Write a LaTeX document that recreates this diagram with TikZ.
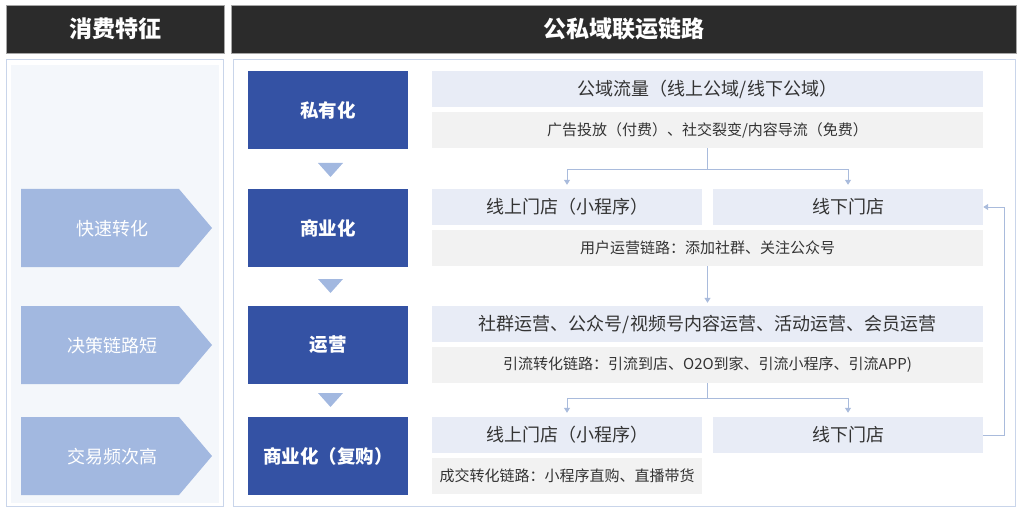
\documentclass[tikz,border=0pt]{standalone}
\usepackage{fontspec}
\setmainfont{Noto Sans CJK SC}
\usetikzlibrary{arrows.meta,calc}
\definecolor{hdr}{HTML}{2B2B2B}
\definecolor{deepblue}{HTML}{3452A4}
\definecolor{chev}{HTML}{A2B8E0}
\definecolor{lightbox}{HTML}{E8ECF6}
\definecolor{graybox}{HTML}{F2F2F2}
\definecolor{connc}{HTML}{A9BBDC}
\definecolor{panelb}{HTML}{C9D5EA}
\definecolor{panelf}{HTML}{F4F7FB}
\definecolor{txt}{HTML}{333333}
\tikzset{
  hdrbox/.style={fill=hdr, draw=gray!70, line width=0.6pt, inner sep=0pt, text=white, font=\fontsize{23}{26}\selectfont\bfseries},
  stagebox/.style={fill=deepblue, inner sep=0pt, minimum width=160pt, minimum height=78pt, text=white, font=\fontsize{18.5}{22}\selectfont\bfseries},
  chevtext/.style={inner sep=0pt, text=white, font=\fontsize{18}{22}\selectfont},
  bluebox/.style={fill=lightbox, inner sep=0pt, minimum height=36pt, text=txt, font=\fontsize{18}{21}\selectfont},
  greybox/.style={fill=graybox, inner sep=0pt, minimum height=36pt, text=txt, font=\fontsize{15}{18}\selectfont},
  conn/.style={draw=connc, line width=1pt},
  arr/.style={-{Triangle[width=6pt,length=5pt]}},
}
\begin{document}
\begin{tikzpicture}[x=1pt,y=-1pt]
\useasboundingbox (0,0) rectangle (1022,513);
% headers
\node[hdrbox, minimum width=218pt, minimum height=48pt] (h1) at (115,29) {消费特征};
\node[hdrbox, minimum width=785pt, minimum height=48pt] (h2) at (623.5,29) {公私域联运链路};
% panels
\draw[panelb, line width=1pt] (6,60) rectangle (223,506);
\fill[panelf] (11,65) rectangle (219,503);
\draw[panelb, line width=1pt] (233,60) rectangle (1015,506);
% chevrons
\fill[chev] (21,189) -- (179,189) -- (212,228) -- (179,267) -- (21,267) -- cycle;
\fill[chev] (21,306) -- (179,306) -- (212,345) -- (179,384) -- (21,384) -- cycle;
\fill[chev] (21,417) -- (179,417) -- (212,456) -- (179,495) -- (21,495) -- cycle;
\node[chevtext] (c1) at (112,229) {快速转化};
\node[chevtext] (c2) at (112,346) {决策链路短};
\node[chevtext] (c3) at (112,457) {交易频次高};
% stage boxes
\node[stagebox] (b1) at (328,110) {私有化};
\node[stagebox] (b2) at (328,228) {商业化};
\node[stagebox] (b3) at (328,345) {运营};
\node[stagebox] (b4) at (328,456) {商业化（复购）};
% down triangles
\fill[chev] (318,163) -- (343,163) -- (330.5,177) -- cycle;
\fill[chev] (318,279) -- (343,279) -- (330.5,293) -- cycle;
\fill[chev] (318,393) -- (343,393) -- (330.5,407) -- cycle;
% content boxes
\node[bluebox, minimum width=551pt] (pub) at (707.5,89) {公域流量（线上公域/线下公域）};
\node[greybox, minimum width=551pt] (ad) at (707.5,130) {广告投放（付费）、社交裂变/内容导流（免费）};
\node[bluebox, minimum width=270pt] (on1) at (567,207) {线上门店（小程序）};
\node[bluebox, minimum width=270pt] (off1) at (848,207) {线下门店};
\node[greybox, minimum width=551pt] (user) at (707.5,248) {用户运营链路：添加社群、关注公众号};
\node[bluebox, minimum width=551pt] (ops) at (707.5,324) {社群运营、公众号/视频号内容运营、活动运营、会员运营};
\node[greybox, minimum width=551pt] (lead) at (707.5,365) {引流转化链路：引流到店、O2O到家、引流小程序、引流APP)};
\node[bluebox, minimum width=270pt] (on2) at (567,435) {线上门店（小程序）};
\node[bluebox, minimum width=270pt] (off2) at (848,435) {线下门店};
\node[greybox, minimum width=270pt] (deal) at (567,476) {成交转化链路：小程序直购、直播带货};
% connectors
\coordinate (s1) at ($(ad.south)+(0,21)$);
\draw[conn] (ad.south) -- (s1);
\draw[conn,arr,shorten >=4pt] (s1) -| (on1.north);
\draw[conn,arr,shorten >=4pt] (s1) -| (off1.north);
\draw[conn,arr,shorten >=3pt] (user.south) -- (ops.north);
\coordinate (s2) at ($(lead.south)+(0,15)$);
\draw[conn] (lead.south) -- (s2);
\draw[conn,arr,shorten >=4pt] (s2) -| (on2.north);
\draw[conn,arr,shorten >=4pt] (s2) -| (off2.north);
\coordinate (fb) at ($(off2.east)+(21,0)$);
\draw[conn,arr] (off2.east) -- (fb) |- (off1.east);
\end{tikzpicture}
\end{document}
